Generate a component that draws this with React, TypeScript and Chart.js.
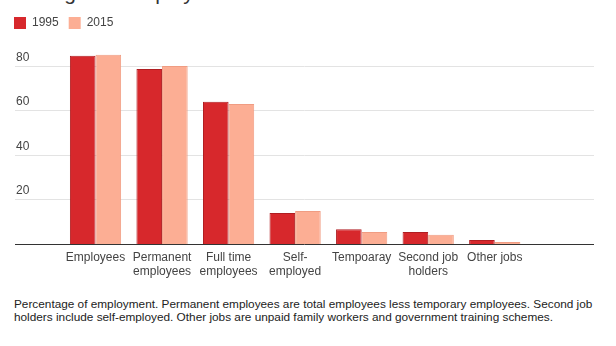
import React, { useEffect, useRef } from "react";
import { Chart, registerables } from "chart.js";

Chart.register(...registerables);

const titleText = "Changes in employment";
const categories: string[][] = [
  ["Employees"],
  ["Permanent", "employees"],
  ["Full time", "employees"],
  ["Self-", "employed"],
  ["Tempoaray"],
  ["Second job", "holders"],
  ["Other jobs"],
];
const series1995 = [84.5, 78.5, 63.8, 13.9, 6.6, 5.4, 1.8];
const series2015 = [84.9, 79.9, 62.8, 14.8, 5.4, 4.2, 0.9];
const seriesNames = ["1995", "2015"];
const yTicks = [20, 40, 60, 80];
const yMax = 92;
const noteLines = [
  "Percentage of employment. Permanent employees are total employees less temporary employees. Second job",
  "holders include self-employed. Other jobs are unpaid family workers and government training schemes.",
];

const FONT = "Arial, 'Liberation Sans', sans-serif";

const gridPlugin = {
  id: "customGrid",
  beforeDatasetsDraw(chart: any) {
    const { ctx } = chart;
    const y = chart.scales.y;
    ctx.save();
    ctx.strokeStyle = "#e3e3e3";
    ctx.lineWidth = 1;
    ctx.fillStyle = "#444";
    ctx.font = "12px " + FONT;
    ctx.textAlign = "left";
    ctx.textBaseline = "alphabetic";
    yTicks.forEach((v) => {
      const py = Math.round(y.getPixelForValue(v)) + 0.5;
      ctx.beginPath();
      ctx.moveTo(15, py);
      ctx.lineTo(594, py);
      ctx.stroke();
      ctx.fillText(String(v), 16, py - 5.5);
    });
    ctx.restore();
  },
  afterDatasetsDraw(chart: any) {
    const { ctx } = chart;
    const y = chart.scales.y;
    const py = Math.round(y.getPixelForValue(0)) + 0.5;
    ctx.save();
    ctx.strokeStyle = "#333";
    ctx.lineWidth = 1;
    ctx.beginPath();
    ctx.moveTo(15, py);
    ctx.lineTo(594, py);
    ctx.stroke();
    ctx.restore();
  },
};

export default function App() {
  const ref = useRef<HTMLCanvasElement>(null);
  useEffect(() => {
    if (!ref.current) return;
    const chart = new Chart(ref.current, {
      type: "bar",
      data: {
        labels: categories,
        datasets: [
          {
            label: seriesNames[0],
            data: series1995,
            backgroundColor: "#d7282c",
            borderColor: "#b01e22",
            borderWidth: 1,
            categoryPercentage: 0.77,
            barPercentage: 1,
          },
          {
            label: seriesNames[1],
            data: series2015,
            backgroundColor: "#fcae94",
            borderColor: "#f09c82",
            borderWidth: 1,
            categoryPercentage: 0.77,
            barPercentage: 1,
          },
        ],
      },
      options: {
        responsive: false,
        animation: false,
        layout: { padding: { left: 4, right: 88, top: 7, bottom: 5.2 } },
        scales: {
          x: {
            grid: { display: false, drawTicks: false },
            border: { display: false },
            ticks: {
              font: { size: 12, family: FONT },
              color: "#444",
              padding: 6,
              maxRotation: 0,
              autoSkip: false,
            },
          },
          y: {
            min: 0,
            max: yMax,
            grid: { display: false, drawTicks: false },
            border: { display: false },
            ticks: { display: false },
            afterFit: (s: any) => {
              s.width = 58.25;
            },
          },
        },
        plugins: {
          legend: {
            display: true,
            position: "top",
            align: "start",
            labels: {
              boxWidth: 12,
              boxHeight: 12,
              padding: 10,
              color: "#444",
              font: { size: 12, family: FONT },
              generateLabels: (c: any) =>
                Chart.defaults.plugins.legend.labels
                  .generateLabels(c)
                  .map((l: any) => ({ ...l, lineWidth: 0, strokeStyle: "transparent" })),
            },
          },
          tooltip: { enabled: false },
        },
      },
      plugins: [gridPlugin],
    });
    return () => chart.destroy();
  }, []);

  return (
    <div
      style={{
        position: "absolute",
        left: 0,
        top: 0,
        width: 616,
        height: 346,
        overflow: "hidden",
        background: "#fff",
        fontFamily: FONT,
      }}
    >
      <div
        style={{
          position: "absolute",
          left: 14,
          top: -19,
          fontSize: 21,
          lineHeight: "normal",
          color: "#333",
          whiteSpace: "nowrap",
        }}
      >
        {titleText}
      </div>
      <canvas ref={ref} width={616} height={290} style={{ position: "absolute", left: 0, top: 0 }} />
      <div
        style={{
          position: "absolute",
          left: 14,
          top: 298,
          fontSize: 11.8,
          lineHeight: "13px",
          color: "#222",
          whiteSpace: "nowrap",
        }}
      >
        {noteLines[0]}
        <br />
        {noteLines[1]}
      </div>
    </div>
  );
}
